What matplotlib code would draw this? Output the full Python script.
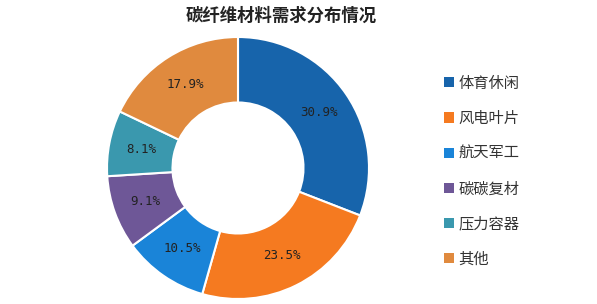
import matplotlib
matplotlib.use("Agg")
import matplotlib.pyplot as plt
from matplotlib.patches import Patch

plt.rcParams['font.family'] = ['Noto Sans CJK SC', 'DejaVu Sans']

title = "碳纤维材料需求分布情况"
categories = ["体育休闲", "风电叶片", "航天军工", "碳碳复材", "压力容器", "其他"]
shares = [30.9, 23.5, 10.5, 9.1, 8.1, 17.9]
colors = ["#1764AB", "#F57A20", "#1A84D8", "#6E5797", "#3A98AE", "#E08A3E"]

fig = plt.figure(figsize=(5.97, 3.04), dpi=100)
ax = fig.add_axes([238/597 - 131/597, 1 - (168 + 131)/304, 262/597, 262/304])

wedges, texts, autotexts = ax.pie(
    shares, colors=colors, startangle=90, counterclock=False,
    wedgeprops=dict(width=0.5, edgecolor="white", linewidth=1.5),
    autopct=lambda p: f"{p:.1f}%", pctdistance=0.75,
    textprops=dict(fontsize=9, family="DejaVu Sans Mono", color="#222222"),
)
ax.set_aspect("equal")
ax.set_xlim(-1.0, 1.0)
ax.set_ylim(-1.0, 1.0)

fig.text(281/597, 1 - 16/304, title, ha="center", va="center",
         fontsize=12.5, fontweight="bold", color="#222222")

handles = [Patch(facecolor=c, edgecolor="none") for c in colors]
fig.legend(handles, categories, loc="upper left",
           bbox_to_anchor=(430/597, 1 - 61/304), frameon=False,
           fontsize=11, handlelength=0.65, handleheight=0.65,
           handletextpad=0.3, labelspacing=1.19, labelcolor="#333333")

fig.savefig("out.png", dpi=100)
